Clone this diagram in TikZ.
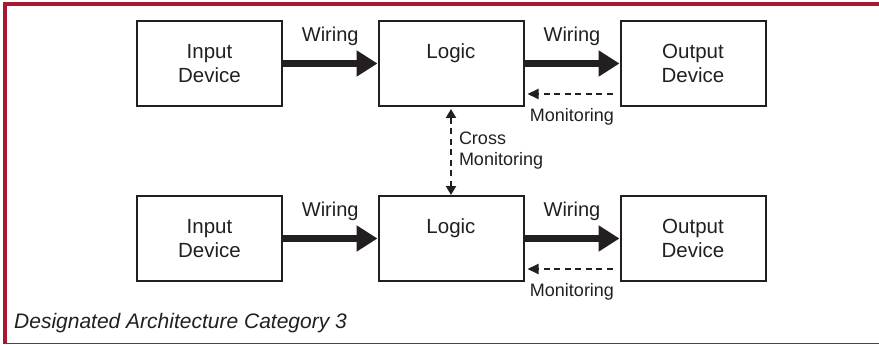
\documentclass[tikz,border=0pt]{standalone}
\usepackage{fontspec}
\setmainfont{Liberation Sans}
\usepackage{xcolor}
\usetikzlibrary{arrows.meta}
\definecolor{framered}{RGB}{167,25,48}
\definecolor{boxgray}{RGB}{35,31,32}

\begin{document}
\begin{tikzpicture}[x=1pt,y=-1pt,
  blk/.style={draw=boxgray,line width=2pt,minimum width=145pt,minimum height=85pt,inner sep=0pt,
    align=center,text=boxgray,font=\fontsize{20.5}{24}\selectfont},
  wire/.style={boxgray,line width=7pt,-{Triangle[length=21pt,width=25pt]}},
  mon/.style={boxgray,line width=2pt,dash pattern=on 6pt off 4.5pt},
  lbl/.style={inner sep=0pt,text=boxgray,font=\fontsize{20}{22}\selectfont},
  small/.style={inner sep=0pt,text=boxgray,font=\fontsize{18}{21}\selectfont}]
\useasboundingbox (0,0) rectangle (879,345);
% frame
\fill[framered] (3,2) rectangle (879,6);
\fill[framered] (3,2) rectangle (7,344);
\draw[framered,line width=1pt] (3,343.5) -- (879,343.5);
% the two channels
\foreach \r/\y in {a/63.5,b/238.5} {
  \node[blk] (in\r) at (209.5,\y) {Input\\Device};
  \node[blk] (lg\r) at (451,\y) {Logic\\\phantom{Device}};
  \node[blk] (out\r) at (693,\y) {Output\\Device};
  \draw[wire] (in\r) -- (lg\r) node[lbl,midway,above=14pt] {Wiring};
  \draw[wire] (lg\r) -- (out\r) node[lbl,midway,above=14pt] {Wiring};
  \draw[mon,-{Triangle[length=11pt,width=10pt]},shorten <=7pt,shorten >=3pt]
    ([yshift=-30.5pt]out\r.west) -- ([yshift=-30.5pt]lg\r.east)
    node[small,midway,below=13pt] {Monitoring};
}
% cross monitoring
\draw[mon,{Triangle[length=9pt,width=10pt]}-{Triangle[length=9pt,width=10pt]},shorten <=2pt]
  (lga) -- (lgb) node[small,midway,right=7pt,align=left] {Cross\\Monitoring};
\node[anchor=base west,inner sep=0pt,text=boxgray,font=\fontsize{21}{22}\selectfont\itshape]
  (cap) at (14,328) {Designated Architecture Category 3};
\end{tikzpicture}
\end{document}
